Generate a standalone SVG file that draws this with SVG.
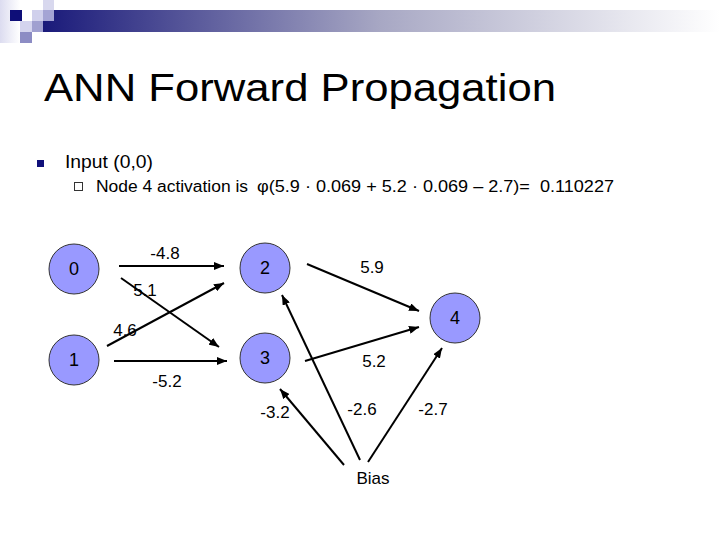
<svg xmlns="http://www.w3.org/2000/svg" width="720" height="540" viewBox="0 0 720 540">
<style>
text{font-family:"Liberation Sans",Arial,sans-serif;fill:#000}
.node circle{fill:#9999ff;stroke:#333;stroke-width:1}
.node text{font-size:18px;text-anchor:middle}
.lbl{font-size:17px;text-anchor:middle}
.conn line{stroke:#000;stroke-width:2;marker-end:url(#ah)}
</style>
<defs>
<linearGradient id="bar" x1="0" y1="0" x2="1" y2="0">
<stop offset="0" stop-color="#1a1a7a"/>
<stop offset="0.5" stop-color="#a8a8c4"/>
<stop offset="1" stop-color="#ffffff"/>
</linearGradient>
<linearGradient id="lft" x1="0" y1="0" x2="1" y2="0">
<stop offset="0" stop-color="#dcdcf0"/>
<stop offset="1" stop-color="#ffffff"/>
</linearGradient>
<marker id="ah" markerWidth="11" markerHeight="8" refX="10" refY="4" orient="auto" markerUnits="userSpaceOnUse">
<path d="M0,0 L10,4 L0,8 Z" fill="#000"/>
</marker>
</defs>
<rect width="720" height="540" fill="#fff"/>
<g id="header">
<rect x="0" y="0" width="20" height="43" fill="url(#lft)"/>
<rect x="43" y="10" width="677" height="22" fill="url(#bar)"/>
<rect x="43" y="0" width="11" height="10" fill="#d8d8ee"/>
<rect x="10" y="10" width="12" height="11" fill="#0e0e78"/>
<rect x="32" y="10" width="11" height="11" fill="#d0d0ec"/>
<rect x="43" y="10" width="11" height="11" fill="#a4a4d4"/>
<rect x="20" y="21" width="12" height="11" fill="#d4d4ee"/>
<rect x="32" y="21" width="11" height="11" fill="#a0a0d0"/>
<rect x="20" y="32" width="12" height="11" fill="#8c8cc4"/>
</g>
<text x="44" y="101" font-size="38" textLength="512" lengthAdjust="spacingAndGlyphs">ANN Forward Propagation</text>
<rect x="37" y="160" width="7" height="7" fill="#10107a"/>
<text x="65" y="168" font-size="18" textLength="88" lengthAdjust="spacingAndGlyphs">Input (0,0)</text>
<rect x="74.5" y="182.5" width="8" height="8" fill="none" stroke="#333" stroke-width="1"/>
<text x="96" y="192" font-size="16" textLength="152" lengthAdjust="spacingAndGlyphs">Node 4 activation is</text>
<text x="257" y="192" font-size="16" textLength="357" lengthAdjust="spacingAndGlyphs" xml:space="preserve">φ(5.9 · 0.069 + 5.2 · 0.069 – 2.7)=  0.110227</text>
<g id="connectors" class="conn">
<line x1="119" y1="266" x2="224" y2="266"/>
<line x1="121" y1="278" x2="219" y2="347"/>
<line x1="107" y1="346" x2="224" y2="283"/>
<line x1="114" y1="361" x2="227" y2="361"/>
<line x1="307" y1="264" x2="419" y2="311"/>
<line x1="305" y1="361" x2="419" y2="327"/>
<line x1="344" y1="465" x2="280" y2="389"/>
<line x1="360" y1="460" x2="282" y2="295"/>
<line x1="368" y1="462" x2="442" y2="348"/>
</g>
<g id="node0" class="node"><circle cx="74" cy="269" r="25"/><text x="74" y="275">0</text></g>
<g id="node1" class="node"><circle cx="74" cy="360" r="25"/><text x="74" y="366">1</text></g>
<g id="node2" class="node"><circle cx="265" cy="268" r="25"/><text x="265" y="274">2</text></g>
<g id="node3" class="node"><circle cx="265" cy="358" r="25"/><text x="265" y="364">3</text></g>
<g id="node4" class="node"><circle cx="455" cy="318" r="25"/><text x="455" y="324">4</text></g>
<g id="labels">
<text class="lbl" x="165" y="259">-4.8</text>
<text class="lbl" x="145" y="296">5.1</text>
<text class="lbl" x="125" y="336">4.6</text>
<text class="lbl" x="167" y="387">-5.2</text>
<text class="lbl" x="372" y="273">5.9</text>
<text class="lbl" x="374" y="367">5.2</text>
<text class="lbl" x="275" y="418">-3.2</text>
<text class="lbl" x="362" y="415">-2.6</text>
<text class="lbl" x="433" y="415">-2.7</text>
<text class="lbl" x="373" y="484">Bias</text>
</g>
</svg>
